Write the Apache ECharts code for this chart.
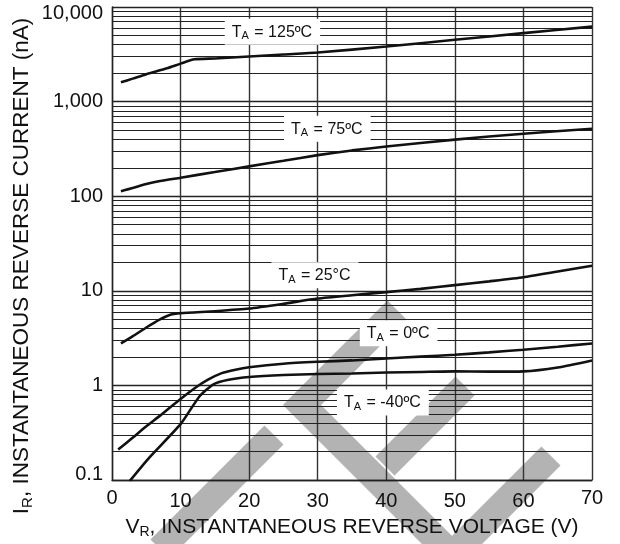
<!DOCTYPE html>
<html><head><meta charset="utf-8">
<script src="https://cdn.jsdelivr.net/npm/echarts@6/dist/echarts.min.js"></script>
<style>html,body{margin:0;padding:0;background:#fff}#c{width:620px;height:544px}</style>
</head><body><div id="c"></div>
<script>
// ---- data ----
const xTicks = [0, 10, 20, 30, 40, 50, 60, 70];
const yTicks = [0.1, 1, 10, 100, 1000, 10000];
const yTickLabels = ['0.1', '1', '10', '100', '1,000', '10,000'];

const v125 = [1.3, 3, 5, 8, 10, 12, 15, 20, 25, 30, 40, 50, 60, 70];
const i125 = [1600, 1750, 1950, 2250, 2520, 2800, 2860, 3000, 3150, 3300, 3820, 4500, 5300, 6200];

const v75 = [1.3, 3, 5, 7, 10, 15, 20, 25, 30, 35, 40, 50, 60, 70];
const i75 = [113, 122, 135, 145, 157, 180, 207, 237, 272, 305, 335, 397, 458, 517];

const v25 = [1.3, 3, 5, 7, 8.5, 10, 15, 20, 25, 30, 35, 40, 45, 50, 55, 60, 65, 70];
const i25 = [2.78, 3.3, 4.1, 5.0, 5.6, 5.8, 6.1, 6.5, 7.3, 8.3, 9.0, 9.7, 10.5, 11.5, 12.6, 13.9, 16, 18.4];

const v0 = [0.9, 3, 5, 7, 10, 12, 14, 16, 18, 20, 25, 30, 35, 40, 45, 50, 55, 60, 65, 70];
const i0 = [0.21, 0.28, 0.37, 0.48, 0.72, 0.93, 1.15, 1.35, 1.47, 1.56, 1.70, 1.78, 1.84, 1.93, 2.02, 2.11, 2.24, 2.39, 2.57, 2.78];

const vm40 = [2.6, 5.5, 10, 12.8, 14.8, 17, 20, 25, 30, 35, 40, 45, 50, 55, 60, 65, 70];
const im40 = [0.098, 0.175, 0.39, 0.775, 1.03, 1.15, 1.23, 1.29, 1.32, 1.34, 1.37, 1.39, 1.41, 1.40, 1.41, 1.55, 1.84];

const seriesTemps = ['125ºC', '75ºC', '25°C', '0ºC', '-40ºC'];
// annotation anchors in data space (V, nA)
const labelAnchors = [[23.4, 5480], [31.4, 517], [29.6, 14.6], [41.8, 3.57], [39.5, 0.662]];

// ---- build ----
const FONT = 'Liberation Sans, Arial, sans-serif';
const zip = (a, b) => a.map((x, k) => [x, b[k]]);
const curves = [zip(v125, i125), zip(v75, i75), zip(v25, i25), zip(v0, i0), zip(vm40, im40)];

const minorLevels = [];
for (let d = -1; d <= 3; d++) for (let m = 2; m <= 9; m++) minorLevels.push(m * Math.pow(10, d));

const labelRich = {
  t: { fontFamily: FONT, fontSize: 16, color: '#111', lineHeight: 19, verticalAlign: 'middle' },
  s: { fontFamily: FONT, fontSize: 11, color: '#111', lineHeight: 19, verticalAlign: 'bottom', padding: [7, 1, 0, 0] }
};

const chart = echarts.init(document.getElementById('c'), null, { renderer: 'canvas' });

const series = curves.map((d, k) => ({
  type: 'line', name: seriesTemps[k], data: d, showSymbol: false, symbol: 'none',
  smooth: 0.2, z: 20,
  lineStyle: { color: '#111', width: 2.6 },
  markPoint: {
    z: 30, symbol: 'rect', symbolSize: 1, itemStyle: { color: 'rgba(0,0,0,0)' },
    label: {
      show: true, position: 'inside', backgroundColor: '#fff', padding: [4, 8, 3, 7],
      formatter: '{t|T}{s|A}{t| = ' + seriesTemps[k] + '}', rich: labelRich
    },
    data: [{ coord: labelAnchors[k] }]
  }
}));

series.push({
  type: 'line', name: 'minor', data: [], silent: true, z: 12,
  markLine: {
    silent: true, symbol: 'none', z: 12, animation: false,
    label: { show: false },
    lineStyle: { color: '#222', width: 1.1, type: 'solid' },
    data: minorLevels.map(v => ({ yAxis: v }))
  }
});

const WM = { stroke: '#b3b3b3', lineWidth: 27, fill: null, lineCap: 'butt', lineJoin: 'miter' };

chart.setOption({
  animation: false,
  backgroundColor: '#fff',
  grid: { left: 112, right: 28, top: 7, bottom: 59, z: 1 },
  xAxis: {
    type: 'value', min: 0, max: 70, interval: 10, z: 10,
    axisLine: { show: true, lineStyle: { color: '#222', width: 1.4 } },
    axisTick: { show: false },
    splitLine: { show: true, lineStyle: { color: '#333', width: 1.4 } },
    axisLabel: {
      margin: 8, fontFamily: FONT, fontSize: 20, color: '#111',
      formatter: v => (v === 0 || v === 70) ? '{h|' + v + '}' : '{n|' + v + '}',
      rich: {
        h: { fontFamily: FONT, fontSize: 20, color: '#111', lineHeight: 20 },
        n: { fontFamily: FONT, fontSize: 20, color: '#111', lineHeight: 20, padding: [6, 0, 0, 0] }
      }
    },
    name: '{t|V}{s|R}{t|, INSTANTANEOUS REVERSE VOLTAGE (V)}',
    nameLocation: 'middle', nameGap: 32,
    nameTextStyle: {
      rich: {
        t: { fontFamily: FONT, fontSize: 21, color: '#111', lineHeight: 24, verticalAlign: 'middle' },
        s: { fontFamily: FONT, fontSize: 14, color: '#111', lineHeight: 24, verticalAlign: 'bottom', padding: [9, 0, 0, 0] }
      }
    }
  },
  yAxis: {
    type: 'log', logBase: 10, min: 0.1, max: 10000, z: 10,
    axisLine: { show: true, lineStyle: { color: '#222', width: 1.4 } },
    axisTick: { show: false },
    minorTick: { show: false }, minorSplitLine: { show: false },
    splitLine: { show: true, lineStyle: { color: '#222', width: 1.3 } },
    axisLabel: {
      margin: 9, fontFamily: FONT, fontSize: 20, color: '#111',
      formatter: v => {
        const idx = yTicks.findIndex(t => Math.abs(t - v) / t < 1e-6);
        const s = idx >= 0 ? yTickLabels[idx] : '';
        if (idx === 5) return '{top|' + s + '}';
        if (idx === 0) return '{bot|' + s + '}';
        return '{n|' + s + '}';
      },
      rich: {
        n: { fontFamily: FONT, fontSize: 20, color: '#111' },
        top: { fontFamily: FONT, fontSize: 20, color: '#111', padding: [12, 0, 0, 0] },
        bot: { fontFamily: FONT, fontSize: 20, color: '#111', padding: [0, 0, 12, 0] }
      }
    }
  },
  graphic: [
    // grey watermark strokes (background decoration, lowest z)
    { type: 'polyline', z: 0, silent: true,
      shape: { points: [[160, 549], [274, 435]] }, style: WM },
    { type: 'polyline', z: 0, silent: true,
      shape: { points: [[397, 310], [302, 405], [452, 555], [551, 456]] }, style: WM },
    { type: 'polyline', z: 0, silent: true,
      shape: { points: [[465, 386], [385, 466]] }, style: WM },
    // y axis title
    { type: 'text', z: 40, x: 22, y: 266, rotation: Math.PI / 2,
      style: {
        text: '{t|I}{s|R}{t|, INSTANTANEOUS REVERSE CURRENT (nA)}',
        align: 'center', verticalAlign: 'middle',
        rich: {
          t: { fontFamily: FONT, fontSize: 22.5, fill: '#111', lineHeight: 26, verticalAlign: 'middle' },
          s: { fontFamily: FONT, fontSize: 15, fill: '#111', lineHeight: 26, verticalAlign: 'bottom', padding: [10, 0, 0, 0] }
        }
      } }
  ],
  series: series
});
</script>
</body></html>
